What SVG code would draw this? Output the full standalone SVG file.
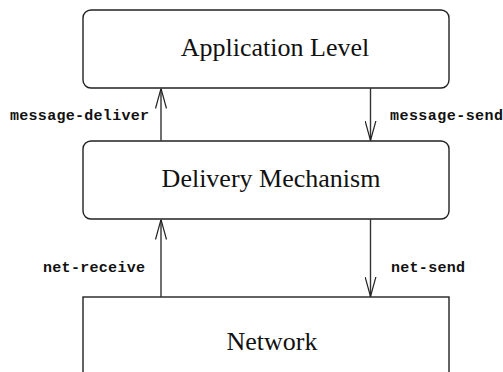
<svg xmlns="http://www.w3.org/2000/svg" width="503" height="372" viewBox="0 0 503 372">
  <style>
    .box { fill: #fff; stroke: #222; stroke-width: 1.4; }
    .title { font-family: "Liberation Serif", "Times New Roman", serif; font-size: 26px; fill: #111; text-anchor: middle; }
    .label { font-family: "Liberation Mono", "Courier New", monospace; font-weight: bold; font-size: 15px; fill: #111; }
    .wire { fill: none; stroke: #333; stroke-width: 1.4; }
  </style>
  <defs>
    <marker id="open" viewBox="0 0 20 12" refX="20" refY="6" markerWidth="20" markerHeight="12" markerUnits="userSpaceOnUse" orient="auto">
      <path d="M0,0.5 L20,6 L0,11.5" fill="none" stroke="#222" stroke-width="1.2"/>
    </marker>
  </defs>

  <g id="application-level">
    <rect class="box" x="83" y="10" width="366" height="78" rx="8"/>
    <text class="title" x="275" y="56">Application Level</text>
  </g>

  <g id="delivery-mechanism">
    <rect class="box" x="83" y="141" width="366" height="78" rx="8"/>
    <text class="title" x="271" y="187">Delivery Mechanism</text>
  </g>

  <g id="network">
    <rect class="box" x="83" y="297" width="366" height="90"/>
    <text class="title" x="272" y="350">Network</text>
  </g>

  <g id="connectors">
    <line class="wire" x1="161" y1="141" x2="161" y2="88.5" marker-end="url(#open)"/>
    <line class="wire" x1="370.5" y1="88" x2="370.5" y2="140.5" marker-end="url(#open)"/>
    <line class="wire" x1="161" y1="297" x2="161" y2="219.5" marker-end="url(#open)"/>
    <line class="wire" x1="370.5" y1="219" x2="370.5" y2="296.5" marker-end="url(#open)"/>
    <text class="label" x="10" y="120" textLength="139" lengthAdjust="spacing">message-deliver</text>
    <text class="label" x="390" y="120" textLength="113" lengthAdjust="spacing">message-send</text>
    <text class="label" x="43" y="272" textLength="102" lengthAdjust="spacing">net-receive</text>
    <text class="label" x="391" y="272" textLength="74" lengthAdjust="spacing">net-send</text>
  </g>
</svg>
